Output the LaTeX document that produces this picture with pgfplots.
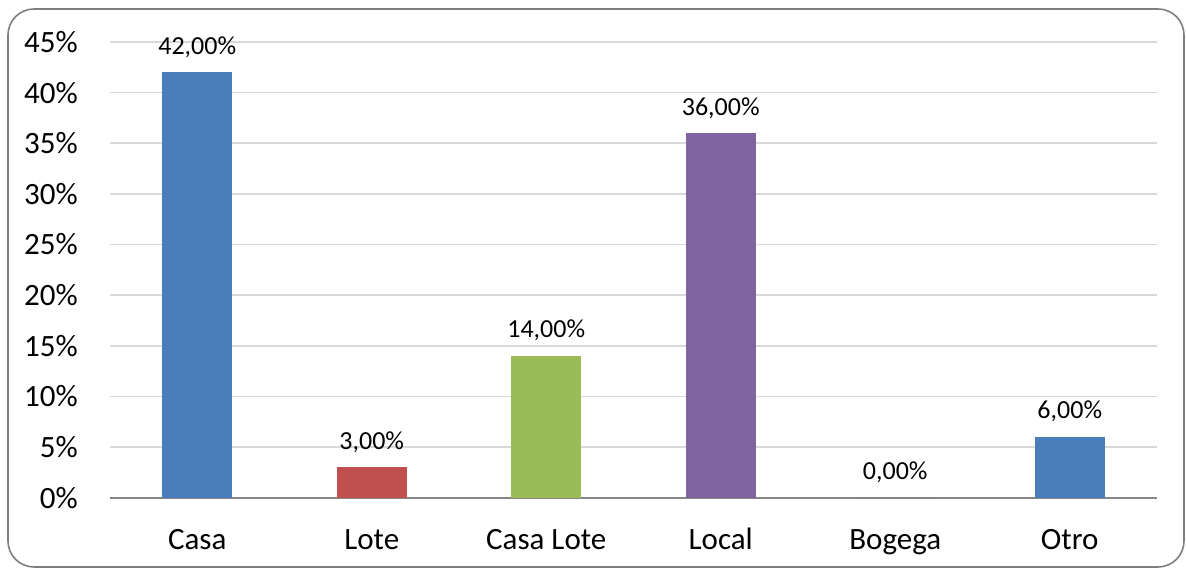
\documentclass[border=0pt]{standalone}
\usepackage{fontspec}
\setmainfont{Carlito}
\usepackage{pgfplots}
\pgfplotsset{compat=1.18}
\definecolor{cblue}{HTML}{4A7EBB}
\definecolor{cred}{HTML}{C0504D}
\definecolor{cgreen}{HTML}{9BBB59}
\definecolor{cpurple}{HTML}{8064A2}
\definecolor{gridc}{HTML}{D9D9D9}
\definecolor{axisc}{HTML}{868686}
\definecolor{framec}{HTML}{7F7F7F}
\begin{document}
\begin{tikzpicture}[x=1pt,y=1pt]
\useasboundingbox (0,0) rectangle (1186,569);
\draw[framec, line width=1.6pt, rounded corners=26pt] (8,2) rectangle (1184,560);
\begin{axis}[
  at={(110pt,71.3pt)}, anchor=south west,
  scale only axis, width=1047pt, height=455.7pt,
  xmin=-0.5, xmax=5.5, ymin=0, ymax=45,
  enlargelimits=false,
  ybar, bar width=70pt,
  axis x line=bottom, axis y line=left,
  x axis line style={-, color=axisc, line width=2pt},
  y axis line style={draw=none},
  major tick style={draw=none},
  ymajorgrids, grid style={color=gridc, line width=1.6pt},
  xtick={0,1,2,3,4,5},
  xticklabels={Casa,Lote,Casa Lote,Local,Bogega,Otro},
  ytick={0,5,10,15,20,25,30,35,40,45},
  yticklabels={0\%,5\%,10\%,15\%,20\%,25\%,30\%,35\%,40\%,45\%},
  xticklabel style={anchor=base, inner sep=0pt, yshift=-50pt, font=\fontsize{31}{36}\selectfont},
  yticklabel style={anchor=east, inner sep=0pt, xshift=-30pt, font=\fontsize{31}{36}\selectfont},
  point meta=explicit symbolic,
  nodes near coords,
  every node near coord/.style={anchor=base, inner sep=0pt, yshift=18pt, font=\fontsize{26}{30}\selectfont, text=black},
]
\addplot[fill=cblue, draw=none, bar shift=0pt] coordinates {(0,42) [42,00\%]};
\addplot[fill=cred, draw=none, bar shift=0pt] coordinates {(1,3) [3,00\%]};
\addplot[fill=cgreen, draw=none, bar shift=0pt] coordinates {(2,14) [14,00\%]};
\addplot[fill=cpurple, draw=none, bar shift=0pt] coordinates {(3,36) [36,00\%]};
\addplot[fill=cblue, draw=none, bar shift=0pt] coordinates {(4,0) [0,00\%]};
\addplot[fill=cblue, draw=none, bar shift=0pt] coordinates {(5,6) [6,00\%]};
\end{axis}
\end{tikzpicture}
\end{document}
